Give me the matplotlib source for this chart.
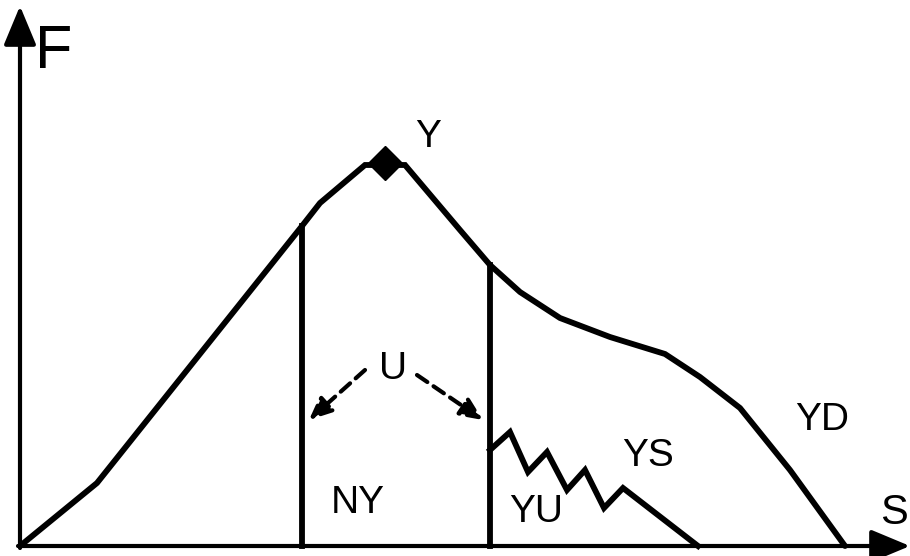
import matplotlib
matplotlib.use("Agg")
import matplotlib.pyplot as plt

plt.rcParams['font.family'] = ['Liberation Sans', 'DejaVu Sans']

# coordinates in "px" units, y measured as height above the S axis
curve_x = [20, 97, 302, 320, 365, 405, 460, 490, 520, 560, 610, 665, 700, 740, 790, 845]
curve_y = [0, 63, 320, 343, 381, 381, 316, 281, 254, 228, 209, 192, 169, 138, 76, 0]

ny_x = 302
ny_top = 320
yu_x = 490
yu_top = 281

zig_x = [490, 510, 528, 547, 567, 585, 604, 623, 698]
zig_y = [96, 114, 74, 94, 56, 76, 38, 58, 0]

peak = (385, 383)

labels = [("F", 54, 494, 44), ("Y", 428, 409, 28), ("U", 393, 177, 28),
          ("NY", 358, 43, 28), ("YU", 536, 34, 28), ("YS", 648, 90, 28),
          ("YD", 822, 126, 28), ("S", 894, 33, 30)]

u_arrows = [((365, 176), (309, 126)), ((417, 171), (483, 126))]

fig = plt.figure(figsize=(9.1, 5.56), dpi=100)
ax = fig.add_axes([0, 0, 1, 1])
ax.set_xlim(0, 910)
ax.set_ylim(-10, 546)
ax.axis("off")

lw = 4.2
# axes with arrows
ax.annotate("", xy=(20, 540), xytext=(20, -2),
            arrowprops=dict(arrowstyle="-|>,head_length=1.2,head_width=0.5", lw=3, color="black",
                            mutation_scale=20, shrinkA=0, shrinkB=0))
ax.annotate("", xy=(910, 0), xytext=(18, 0),
            arrowprops=dict(arrowstyle="-|>,head_length=1.2,head_width=0.5", lw=3, color="black",
                            mutation_scale=20, shrinkA=0, shrinkB=0))

ax.plot(curve_x, curve_y, color="black", lw=lw, solid_joinstyle="miter", solid_capstyle="round")
ax.plot([ny_x, ny_x], [0, ny_top], color="black", lw=lw)
ax.plot([yu_x, yu_x], [0, yu_top], color="black", lw=lw)
ax.plot(zig_x, zig_y, color="black", lw=lw, solid_joinstyle="miter")
ax.plot([peak[0]], [peak[1]], marker="D", color="black", markersize=17)

for (x0, y0), (x1, y1) in u_arrows:
    ax.annotate("", xy=(x1, y1), xytext=(x0, y0),
                arrowprops=dict(arrowstyle="-|>,head_length=0.9,head_width=0.4", lw=3,
                                linestyle=(0, (3, 1.8)), color="black",
                                mutation_scale=15, shrinkA=0, shrinkB=0))

for txt, x, y, fs in labels:
    ax.text(x, y, txt, fontsize=fs, ha="center", va="center")

fig.savefig("out.png", dpi=100)
